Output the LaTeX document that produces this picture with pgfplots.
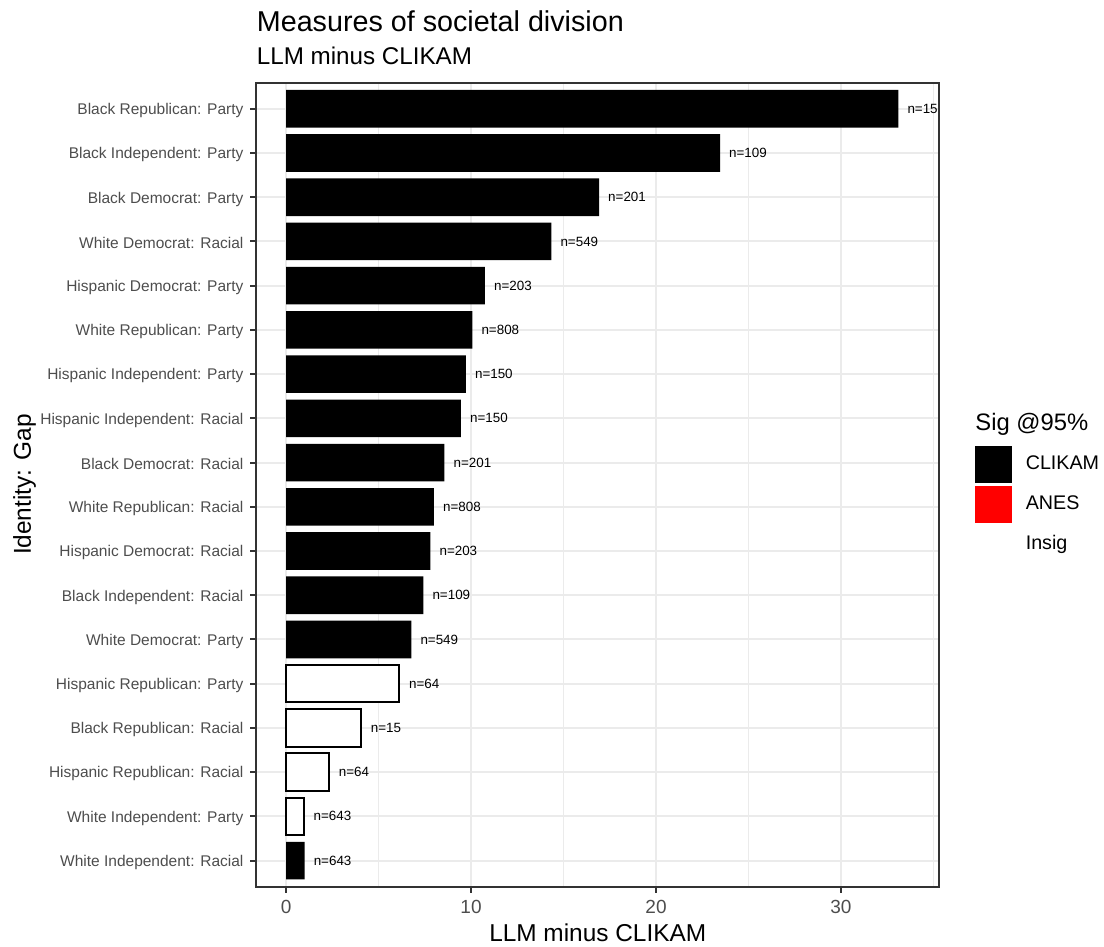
\documentclass[border=0pt]{standalone}
\usepackage{pgfplots}
\usepackage{pgfplotstable}
\pgfplotsset{compat=1.18}
\usepackage{fontspec}
\setmainfont{Liberation Sans}
\definecolor{gridc}{HTML}{EBEBEB}
\definecolor{axc}{HTML}{333333}
\definecolor{tickc}{HTML}{4D4D4D}

\pgfplotstableread{
y x n
1 1.00 643
6 6.77 549
7 7.42 109
8 7.80 203
9 7.99 808
10 8.56 201
11 9.45 150
12 9.72 150
13 10.07 808
14 10.75 203
15 14.34 549
16 16.92 201
17 23.46 109
18 33.10 15
}\sigdata

\pgfplotstableread{
y x n
2 0.96 643
3 2.32 64
4 4.05 15
5 6.12 64
}\insigdata

\begin{document}
\begin{tikzpicture}
\path[use as bounding box] (-128.25pt,-30.15pt) rectangle (423.75pt,443.35pt);
\begin{axis}[
  scale only axis, width=341.25pt, height=402pt,
  at={(0pt,0pt)}, anchor=south west,
  xmin=-1.6, xmax=35.3, ymin=0.41, ymax=18.59,
  xtick={0,10,20,30}, minor xtick={5,15,25,35},
  ytick={1,...,18},
  yticklabels={White Independent: Racial, White Independent: Party, Hispanic Republican: Racial, Black Republican: Racial, Hispanic Republican: Party, White Democrat: Party, Black Independent: Racial, Hispanic Democrat: Racial, White Republican: Racial, Black Democrat: Racial, Hispanic Independent: Racial, Hispanic Independent: Party, White Republican: Party, Hispanic Democrat: Party, White Democrat: Racial, Black Democrat: Party, Black Independent: Party, Black Republican: Party},
  tick align=outside, xtick pos=bottom, ytick pos=left,
  major tick length=3pt, minor tick length=0pt,
  every tick/.style={axc, line width=1pt},
  xmajorgrids, xminorgrids, ymajorgrids,
  major grid style={gridc, line width=1pt},
  minor grid style={gridc, line width=0.5pt},
  axis line style={axc, line width=1pt},
  /pgf/number format/assume math mode=true,
  xticklabel style={font=\fontsize{9.5}{11}\selectfont, text=tickc},
  yticklabel style={font=\fontsize{7.75}{9}\selectfont, text=tickc, yshift=-0.9pt},
  xlabel={LLM minus CLIKAM},
  xlabel style={at={(axis description cs:0.5,-0.06841)}, anchor=base, inner sep=0pt, font=\fontsize{12.2}{14}\selectfont},
  ylabel={Identity: Gap},
  ylabel style={at={(axis description cs:-0.3304,0.5)}, anchor=base, inner sep=0pt, font=\fontsize{12.2}{14}\selectfont},
  legend style={at={(axis description cs:1.05275,0.5481)}, anchor=north west, draw=none, fill=none, inner sep=0pt, outer sep=0pt, row sep=1.5pt, column sep=7pt, font=\fontsize{9.85}{11}\selectfont, nodes={inner sep=0pt}},
  legend cell align=left,
  point meta=explicit symbolic,
  nodes near coords={n=\pgfplotspointmeta},
  every node near coord/.style={anchor=west, inner sep=0pt, xshift=4.4pt, font=\fontsize{6.7}{8}\selectfont, text=black},
]
\addlegendimage{legend image code/.code={\fill[black] (0pt,-9pt) rectangle (18pt,9pt);}}
\addlegendentry{CLIKAM}
\addlegendimage{legend image code/.code={\fill[red] (0pt,-9pt) rectangle (18pt,9pt);}}
\addlegendentry{ANES}
\addlegendimage{legend image code/.code={\path[draw=none, fill=none] (0pt,-9pt) rectangle (18pt,9pt);}}
\addlegendentry{Insig}

\addplot[xbar, bar width=0.85, bar shift=0pt, fill=black, draw=none, forget plot]
  table[x=x, y=y, meta=n] {\sigdata};
\addplot[xbar, bar width=0.85, bar shift=0pt, fill=white, draw=black, line width=1pt, forget plot]
  table[x=x, y=y, meta=n] {\insigdata};
\end{axis}
\node[anchor=base west, inner sep=0pt, font=\fontsize{14.35}{17}\selectfont] at (0pt,427.5pt) {Measures of societal division};
\node[anchor=base west, inner sep=0pt, font=\fontsize{12.1}{14}\selectfont] at (0pt,410.85pt) {LLM minus CLIKAM};
\node[anchor=base west, inner sep=0pt, font=\fontsize{11.9}{14}\selectfont] at (359.25pt,228pt) {Sig @95\%};
\end{tikzpicture}
\end{document}
